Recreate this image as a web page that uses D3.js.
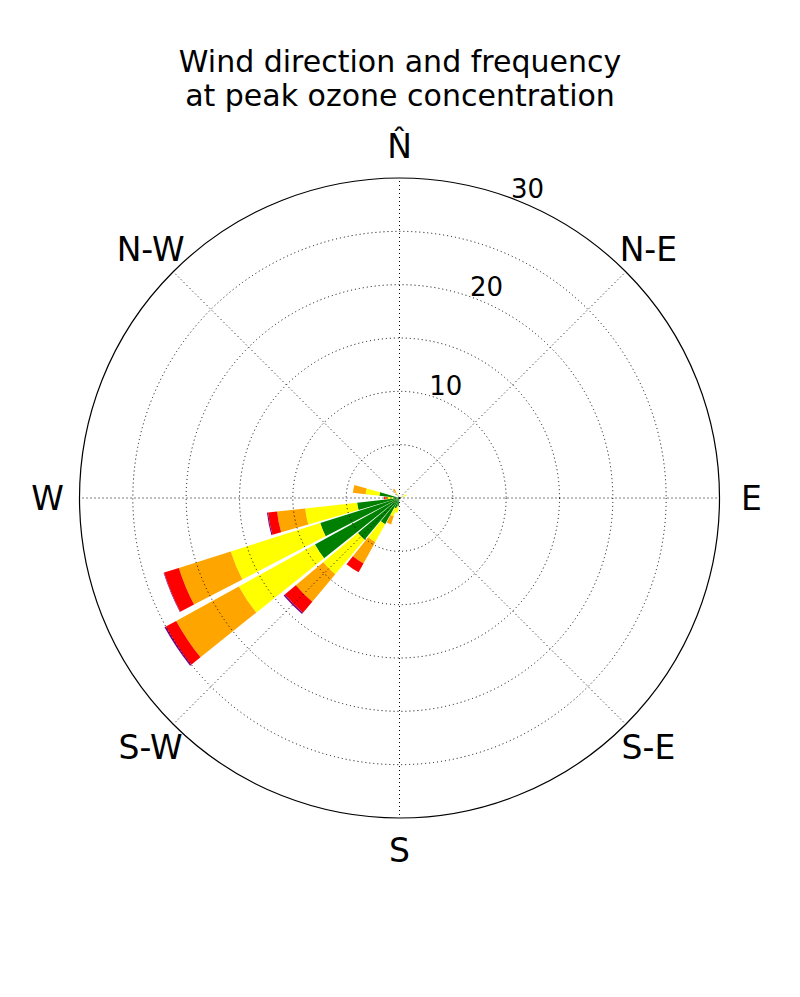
<!DOCTYPE html>
<html>
<head>
<meta charset="utf-8">
<script src="https://cdn.jsdelivr.net/npm/d3@7"></script>
<style>
  body { margin: 0; background: #fff; }
  svg { font-family: "DejaVu Sans", sans-serif; }
</style>
</head>
<body>
<div class="windRose"></div>
<script>
// sector centres (compass degrees, 32 sectors of 11.25 deg) that carry data
const sectorDirs = [67.5, 191.25, 202.5, 213.75, 225, 236.25, 247.5, 258.75, 270, 281.25, 326.25];

// frequency (%) per speed class in each sector, stacked from the centre
const classGreen  = [0.3, 0.8, 1.0, 2.8, 5.1, 9.05, 7.8, 4.0, 0.6, 1.9, 0.3];
const classYellow = [0.4, 0.6, 0.8, 1.9, 4.25, 8.15, 8.8, 4.9, 0.5, 1.3, 0.3];
const classOrange = [0, 0, 0.8, 2.3, 3.35, 6.7, 5.1, 2.65, 0.2, 1.2, 0.4];
const classRed    = [0, 0, 0, 0.95, 1.35, 1.1, 1.45, 0.85, 0.15, 0, 0];
const classPurple = [0, 0, 0, 0, 0.15, 0.15, 0.05, 0.1, 0, 0, 0];

const classColors = ["#008000", "#ffff00", "#ffa500", "#ff0000", "#800080"];

const dirLabels = ["N\u0302", "N-E", "E", "S-E", "S", "S-W", "W", "N-W"];
const dirAngles = [0, 45, 90, 135, 180, 225, 270, 315];

const ringValues = [5, 10, 15, 20, 25];
const ringLabels = [10, 20, 30];

createWindRose();

function createWindRose() {
    const width = 800;
    const height = 997;
    const cx = 399.5;
    const cy = 498;
    const outerR = 320;
    const sectorWidth = 11.25;
    const opening = 0.876;

    const svg = d3.select(".windRose")
        .append("svg")
        .attr("width", width)
        .attr("height", height);

    const r = d3.scaleLinear()
        .domain([0, 30])
        .range([0, outerR]);

    const g = svg.append("g")
        .attr("transform", `translate(${cx},${cy})`);

    // build stacked segments
    const classes = [classGreen, classYellow, classOrange, classRed, classPurple];
    const segments = [];
    sectorDirs.forEach((dir, i) => {
        let base = 0;
        classes.forEach((cls, k) => {
            const v = cls[i];
            if (v > 0) {
                segments.push({ dir: dir, r0: base, r1: base + v, color: classColors[k] });
            }
            base += v;
        });
    });

    const arc = d3.arc()
        .innerRadius(d => r(d.r0))
        .outerRadius(d => r(d.r1))
        .startAngle(d => (d.dir - sectorWidth * opening / 2) * Math.PI / 180)
        .endAngle(d => (d.dir + sectorWidth * opening / 2) * Math.PI / 180);

    g.selectAll("path.seg")
        .data(segments)
        .enter()
        .append("path")
        .attr("class", "seg")
        .attr("d", arc)
        .style("fill", d => d.color);

    // dotted grid (drawn over the bars)
    g.selectAll("circle.ring")
        .data(ringValues)
        .enter()
        .append("circle")
        .attr("class", "ring")
        .attr("r", d => r(d))
        .style("fill", "none")
        .style("stroke", "#000")
        .style("stroke-width", 1)
        .style("stroke-dasharray", "1,3");

    g.selectAll("line.spoke")
        .data(dirAngles)
        .enter()
        .append("line")
        .attr("class", "spoke")
        .attr("x1", 0)
        .attr("y1", 0)
        .attr("x2", d => r(30) * Math.sin(d * Math.PI / 180))
        .attr("y2", d => -r(30) * Math.cos(d * Math.PI / 180))
        .style("stroke", "#000")
        .style("stroke-width", 1)
        .style("stroke-dasharray", "1,3");

    g.append("circle")
        .attr("r", r(30))
        .style("fill", "none")
        .style("stroke", "#000")
        .style("stroke-width", 1.2);

    // radial labels along 22.5 deg
    const labAng = 22.5 * Math.PI / 180;
    g.selectAll("text.rlab")
        .data(ringLabels)
        .enter()
        .append("text")
        .attr("class", "rlab")
        .attr("x", d => r(d) * Math.sin(labAng) + 5.5)
        .attr("y", d => -r(d) * Math.cos(labAng) - 14)
        .attr("dy", "0.36em")
        .style("text-anchor", "middle")
        .style("font-size", "26px")
        .text(d => d);

    // compass labels
    g.selectAll("text.dlab")
        .data(dirLabels)
        .enter()
        .append("text")
        .attr("class", "dlab")
        .attr("x", (d, i) => 352 * Math.sin(dirAngles[i] * Math.PI / 180))
        .attr("y", (d, i) => -352 * Math.cos(dirAngles[i] * Math.PI / 180))
        .attr("dy", "0.36em")
        .style("text-anchor", "middle")
        .style("font-size", "33px")
        .text(d => d);

    // title
    const title = svg.append("text")
        .attr("x", 400)
        .attr("y", 72)
        .style("text-anchor", "middle")
        .style("font-size", "30px");
    title.append("tspan").attr("x", 400).attr("y", 72).text("Wind direction and frequency");
    title.append("tspan").attr("x", 400).attr("y", 106).text("at peak ozone concentration");
}
</script>
</body>
</html>
